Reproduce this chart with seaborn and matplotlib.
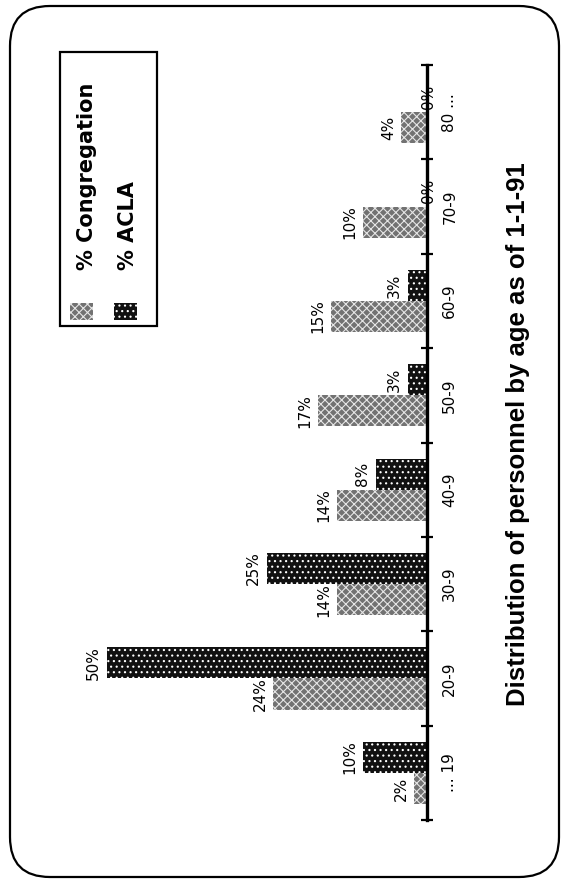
import matplotlib
matplotlib.use("Agg")
import matplotlib.pyplot as plt
import seaborn as sns
import pandas as pd
import numpy as np
from matplotlib.patches import FancyBboxPatch, Rectangle

# Age brackets, bottom to top along the category axis
age_groups = ["... 19", "20-9", "30-9", "40-9", "50-9", "60-9", "70-9", "80 ..."]
congregation_pct = [2, 24, 14, 14, 17, 15, 10, 4]
acla_pct = [10, 50, 25, 8, 3, 3, 0, 0]
series_names = ["% Congregation", "% ACLA"]
title_text = "Distribution of personnel by age as of 1-1-91"

df = pd.DataFrame({
    "age": age_groups * 2,
    "pct": congregation_pct + acla_pct,
    "series": [series_names[0]] * len(age_groups) + [series_names[1]] * len(age_groups),
})

sns.set_theme(style="white", rc={
    "axes.edgecolor": "black", "text.color": "black",
    "xtick.color": "black", "ytick.color": "black",
    "ytick.labelcolor": "black",
})
plt.rcParams["font.family"] = ["DejaVu Sans"]
plt.rcParams["hatch.linewidth"] = 0.8

W, H = 564, 884
fig = plt.figure(figsize=(W / 100, H / 100), dpi=100)
fig.patch.set_facecolor("white")
ax = fig.add_axes([60 / W, 1 - 820 / H, 367 / W, 755 / H])
ax.set_facecolor("none")

sns.barplot(data=df, y="age", x="pct", hue="series", order=age_groups,
            hue_order=series_names, orient="h", width=0.66, dodge=True,
            legend=False, errorbar=None, ax=ax,
            palette=["#777777", "#151515"], saturation=1)

# Page is laid out sideways: values grow leftwards, first bracket at the bottom
ax.set_xlim(57.3, 0)
ax.set_ylim(-0.5, 7.5)

# Screen-tone fills
fills = [
    dict(facecolor="#727272", edgecolor="#e6e6e6", hatch="xxxx"),
    dict(facecolor="#111111", edgecolor="white", hatch="..."),
]
for cont, st in zip(ax.containers, fills):
    for bar in cont:
        bar.set_facecolor(st["facecolor"])
        bar.set_edgecolor(st["edgecolor"])
        bar.set_hatch(st["hatch"])
        bar.set_linewidth(0)

for cont, vals in zip(ax.containers, [congregation_pct, acla_pct]):
    ax.bar_label(cont, labels=[f"{v}%" for v in vals], padding=4,
                 rotation=90, fontsize=11)

for s in ["left", "top", "bottom"]:
    ax.spines[s].set_visible(False)
ax.spines["right"].set_linewidth(2.4)
ax.set_xticks([])
ax.set_xlabel("")
ax.set_ylabel("")
ax.yaxis.tick_right()
ax.set_yticks(range(len(age_groups)), labels=age_groups)
ax.set_yticks(np.arange(-0.5, len(age_groups) + 0.5, 1), minor=True)
ax.tick_params(axis="y", which="major", length=0, pad=11, labelsize=11,
               labelrotation=90, right=True, left=False,
               labelright=True, labelleft=False)
ax.tick_params(axis="y", which="minor", direction="inout", length=8,
               width=1.6, right=True, left=False)
for lbl in ax.get_yticklabels():
    lbl.set_va("center")
    lbl.set_ha("left")

# Title along the long edge
fig.text(518 / W, 1 - 434.5 / H, title_text, rotation=90, ha="center",
         va="center", fontsize=18.5, fontweight="bold",
         family=["Liberation Sans", "DejaVu Sans"])

# Legend box drawn sideways in the top-left corner
fig.add_artist(Rectangle((60 / W, 1 - 326 / H), 97 / W, 274 / H, fill=False,
                         lw=1.6, edgecolor="black", transform=fig.transFigure))
swatch_x = [70, 114]
text_x = [87, 128]
for sx, tx, name, st in zip(swatch_x, text_x, series_names, fills):
    fig.add_artist(Rectangle((sx / W, 1 - 320 / H), 23 / W, 17 / H,
                             facecolor=st["facecolor"], edgecolor=st["edgecolor"],
                             hatch=st["hatch"], lw=0, transform=fig.transFigure))
    fig.text(tx / W, 1 - 270 / H, name, rotation=90, ha="center", va="bottom",
             fontsize=15, fontweight="bold")

# Rounded page frame
fig.add_artist(FancyBboxPatch((10 / 100, (H - 877) / 100), 549 / 100, 871 / 100,
                              boxstyle="round,pad=0,rounding_size=0.4",
                              transform=fig.dpi_scale_trans, fill=False,
                              lw=1.6, edgecolor="black"))

fig.savefig("out.png", dpi=100)
